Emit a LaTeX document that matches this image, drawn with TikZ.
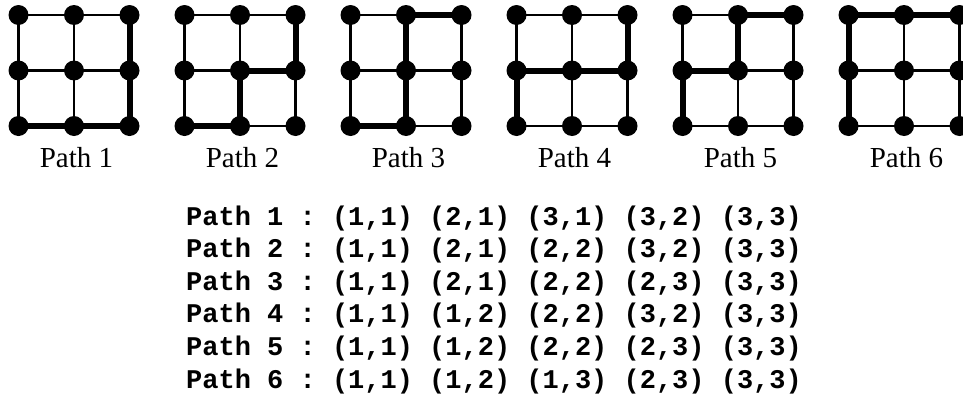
\documentclass[tikz,border=0pt]{standalone}
\usepackage{fontspec}
\setmainfont{Liberation Serif}
\setmonofont{Liberation Mono}
\pgfdeclarelayer{bg}
\pgfsetlayers{bg,main}
\begin{document}
\begin{tikzpicture}[x=1pt,y=-1pt,
  dot/.style={circle,fill=black,draw=none,minimum size=20pt,inner sep=0pt},
  thinedge/.style={line width=2.2pt,black},
  thickedge/.style={line width=6pt,black},
  caption/.style={font=\fontsize{29}{30}\selectfont,anchor=base,inner sep=0pt},
  codeline/.style={font=\fontsize{27}{32.6}\selectfont\ttfamily\bfseries,anchor=base west,inner sep=0pt}]
\useasboundingbox (0,0) rectangle (963,407);
\foreach \k/\pa/\pb/\pc/\pd/\pe in {1/11/21/31/32/33, 2/11/21/22/32/33, 3/11/21/22/23/33, 4/11/12/22/32/33, 5/11/12/22/23/33, 6/11/12/13/23/33}{
  \pgfmathsetmacro{\ox}{18.5+166*(\k-1)}
  \foreach \i in {1,2,3}{
    \foreach \j in {1,2,3}{
      \node[dot] (g\k-\i\j) at ({\ox+55.5*(\i-1)},{126-55.5*(\j-1)}) {};
    }
  }
  \begin{pgfonlayer}{bg}
    \foreach \j in {1,2,3}{
      \draw[thinedge] (g\k-1\j.center) -- (g\k-2\j.center) -- (g\k-3\j.center);
      \draw[thinedge] (g\k-\j1.center) -- (g\k-\j2.center) -- (g\k-\j3.center);
    }
    \draw[thickedge,line join=miter] (g\k-\pa.center) -- (g\k-\pb.center) -- (g\k-\pc.center) -- (g\k-\pd.center) -- (g\k-\pe.center);
  \end{pgfonlayer}
  \node[caption] (cap\k) at ({\ox+58},167) {Path \k};
}
\node[codeline] (l1) at (186,225) {Path 1 : (1,1) (2,1) (3,1) (3,2) (3,3)};
\node[codeline] (l2) at (186,257.6) {Path 2 : (1,1) (2,1) (2,2) (3,2) (3,3)};
\node[codeline] (l3) at (186,290.2) {Path 3 : (1,1) (2,1) (2,2) (2,3) (3,3)};
\node[codeline] (l4) at (186,322.8) {Path 4 : (1,1) (1,2) (2,2) (3,2) (3,3)};
\node[codeline] (l5) at (186,355.4) {Path 5 : (1,1) (1,2) (2,2) (2,3) (3,3)};
\node[codeline] (l6) at (186,388) {Path 6 : (1,1) (1,2) (1,3) (2,3) (3,3)};
\end{tikzpicture}
\end{document}
